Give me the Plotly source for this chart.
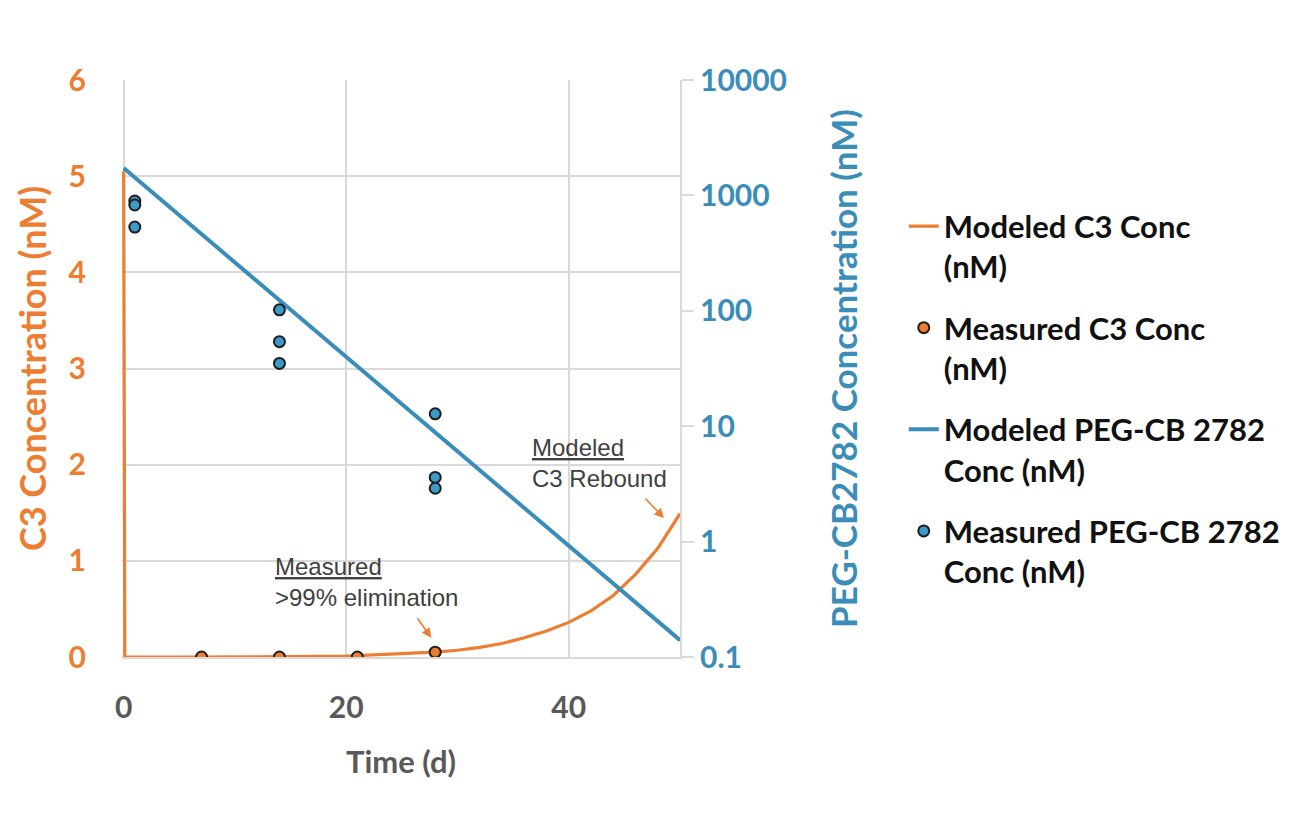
import plotly.graph_objects as go

# ---- data ----
model_c3_t = [0, 0.1, 5, 10, 15, 20, 25, 28, 30, 32, 34, 36, 38, 40, 42, 44, 46, 48, 50]
model_c3_v = [5.05, 0.0, 0.0, 0.0, 0.003, 0.01, 0.03, 0.05, 0.07, 0.1, 0.14, 0.2, 0.27, 0.36, 0.48, 0.64, 0.86, 1.13, 1.49]

meas_c3_t = [7, 14, 21, 28]
meas_c3_v = [0.0, 0.0, 0.0, 0.05]

model_peg_t = [0, 10, 20, 30, 40, 50]
model_peg_v = [1726, 261, 40, 6.0, 0.92, 0.14]

meas_peg_t = [1, 1, 1, 14, 14, 14, 28, 28, 28]
meas_peg_v = [894, 826, 532, 102, 54, 35, 12.8, 3.6, 2.9]

x_ticks = [0, 20, 40]
y1_ticks = [0, 1, 2, 3, 4, 5, 6]
y2_ticks = [0.1, 1, 10, 100, 1000, 10000]
y2_labels = ["0.1", "1", "10", "100", "1000", "10000"]

ORANGE = "#ED7D31"
BLUE = "#3A8DB8"
BLUE_PT = "#3C9AC8"
GRAY = "#595959"
GRID = "#D9D9D9"
FONT = "Lato"

fig = go.Figure()
fig.add_trace(go.Scatter(x=model_c3_t, y=model_c3_v, mode="lines", name="Modeled C3 Conc<br>(nM)",
                         line=dict(color=ORANGE, width=3.2),
                         legendgroup="a", yaxis="y"))
fig.add_trace(go.Scatter(x=meas_c3_t, y=meas_c3_v, mode="markers", name="Measured C3 Conc<br>(nM)",
                         marker=dict(color=ORANGE, size=11, line=dict(color="#1E1E1E", width=2)),
                         legendgroup="b", yaxis="y"))
fig.add_trace(go.Scatter(x=model_peg_t, y=model_peg_v, mode="lines", name="Modeled PEG-CB 2782<br>Conc (nM)",
                         line=dict(color=BLUE, width=4), legendgroup="c", yaxis="y2"))
fig.add_trace(go.Scatter(x=meas_peg_t, y=meas_peg_v, mode="markers", name="Measured PEG-CB 2782<br>Conc (nM)",
                         marker=dict(color=BLUE_PT, size=11, line=dict(color="#1E1E1E", width=2)),
                         legendgroup="d", yaxis="y2"))

fig.update_layout(
    width=1294, height=813,
    margin=dict(l=114, r=622, t=72, b=164),
    paper_bgcolor="white", plot_bgcolor="white",
    font=dict(family=FONT),
    showlegend=True,
    legend=dict(x=1.401, y=0.793, xanchor="left", yanchor="top", valign="top",
                font=dict(family=FONT, size=31, color="#111111", weight="bold"),
                tracegroupgap=18, bgcolor="rgba(0,0,0,0)"),
    xaxis=dict(range=[-0.15, 50], tickvals=x_ticks, showgrid=True, gridcolor=GRID, gridwidth=2,
               showline=True, linecolor=GRID, linewidth=2, zeroline=False,
               tickfont=dict(family=FONT, size=30, color=GRAY, weight="bold"),
               ticklabelstandoff=23,
               title=dict(text="Time (d)", font=dict(family=FONT, size=31, color=GRAY, weight="bold"),
                          standoff=28),
               ticks=""),
    yaxis=dict(range=[0, 6], tickvals=y1_ticks, showgrid=True, gridcolor=GRID, gridwidth=2,
               zeroline=False, showline=False, ticks="", ticklabelstandoff=35,
               tickfont=dict(family=FONT, size=30, color=ORANGE, weight="bold"),
               title=dict(text="C3 Concentration (nM)", font=dict(family=FONT, size=36, color=ORANGE, weight="bold"),
                          standoff=10)),
    yaxis2=dict(type="log", range=[-1, 4], overlaying="y", side="right", tickvals=y2_ticks,
                ticktext=y2_labels, showgrid=False, zeroline=False,
                showline=True, linecolor=GRID, linewidth=2, ticks="outside", ticklen=12, tickcolor=GRID,
                tickwidth=2,
                tickfont=dict(family=FONT, size=30, color=BLUE, weight="bold"),
                title=dict(text="PEG-CB2782 Concentration (nM)",
                           font=dict(family=FONT, size=35, color=BLUE, weight="bold"), standoff=46)),
)

ann_font = dict(family="Liberation Sans, Arial", size=24, color="#404040")
fig.add_annotation(x=13.4, y=1.1, xref="x", yref="y", text="<u>Measured</u><br>&gt;99% elimination",
                   showarrow=False, xanchor="left", yanchor="top", align="left", font=ann_font)
fig.add_annotation(x=36.5, y=2.34, xref="x", yref="y", text="<u>Modeled</u><br>C3 Rebound",
                   showarrow=False, xanchor="left", yanchor="top", align="left", font=ann_font)
fig.add_annotation(x=27.65, y=0.2, xref="x", yref="y", text="", showarrow=True, arrowhead=2,
                   arrowsize=1.2, arrowwidth=1.6, arrowcolor=ORANGE, ax=-15, ay=-21)
fig.add_annotation(x=48.56, y=1.445, xref="x", yref="y", text="", showarrow=True, arrowhead=2,
                   arrowsize=1.2, arrowwidth=1.6, arrowcolor=ORANGE, ax=-20, ay=-21)

fig.write_html("out.html")
